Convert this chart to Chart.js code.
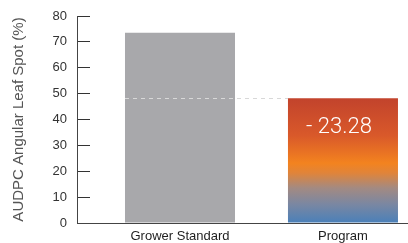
<!DOCTYPE html>
<html>
<head>
<meta charset="utf-8">
<script src="https://cdn.jsdelivr.net/npm/chart.js@4/dist/chart.umd.min.js"></script>
<style>
  html, body { margin: 0; padding: 0; background: #fff; overflow: hidden; }
  #wrap { width: 408px; height: 243px; position: relative; }
</style>
</head>
<body>
<div id="wrap"><canvas id="chart" width="408" height="243"></canvas></div>
<script>
// chart data
const categories = ['Grower Standard', 'Program'];
const positions = [1, 2];
const audpc = [73.5, 48.2];
const barLabels = ['', '- 23.28'];
const yTicks = [0, 10, 20, 30, 40, 50, 60, 70, 80];
const yTitle = 'AUDPC Angular Leaf Spot (%)';

const FONT = "'Liberation Sans', Arial, sans-serif";

function programGradient(ctx) {
    const chart = ctx.chart;
    const area = chart.chartArea;
    if (!area) return '#e07030';
    const y = chart.scales.y;
    const top = y.getPixelForValue(audpc[1]);
    const bottom = y.getPixelForValue(0);
    const g = chart.ctx.createLinearGradient(0, top, 0, bottom);
    g.addColorStop(0, '#c2432c');
    g.addColorStop(0.3, '#d9592a');
    g.addColorStop(0.52, '#f3831f');
    g.addColorStop(0.6, '#e0843a');
    g.addColorStop(0.72, '#a38a82');
    g.addColorStop(0.85, '#7a87a2');
    g.addColorStop(1, '#4a80b9');
    return g;
}

// dashed reference line from the grower bar to the program bar top
const refLine = {
    id: 'refLine',
    afterDatasetsDraw(chart) {
        const meta = chart.getDatasetMeta(0);
        const a = meta.data[0], b = meta.data[1];
        const c = chart.ctx;
        const yy = Math.round(b.y) + 0.5;
        c.save();
        c.strokeStyle = '#d8d8d8';
        c.lineWidth = 1;
        c.setLineDash([4, 4]);
        c.beginPath();
        c.moveTo(a.x - a.width / 2, yy);
        c.lineTo(b.x - b.width / 2, yy);
        c.stroke();
        c.setLineDash([]);
        c.fillStyle = '#ffffff';
        c.font = '300 22px Roboto, ' + FONT;
        c.textAlign = 'center';
        c.textBaseline = 'middle';
        meta.data.forEach((bar, i) => {
            if (barLabels[i]) c.fillText(barLabels[i], bar.x - 4, bar.y + 29);
        });
        c.restore();
    }
};

new Chart(document.getElementById('chart'), {
    type: 'bar',
    data: {
        datasets: [{
            data: positions.map((x, i) => ({ x: x, y: audpc[i] })),
            backgroundColor: ctx => ctx.dataIndex === 0 ? '#a8a8ab' : programGradient(ctx),
            borderWidth: 0,
            barPercentage: 0.675,
            categoryPercentage: 1
        }]
    },
    options: {
        responsive: false,
        animation: false,
        layout: { padding: { top: 16, right: 0, bottom: 0, left: 0 } },
        plugins: { legend: { display: false }, tooltip: { enabled: false } },
        scales: {
            x: {
                type: 'linear',
                offset: false,
                min: 0.368,
                max: 2.399,
                afterBuildTicks: s => { s.ticks = positions.map(v => ({ value: v })); },
                afterFit: s => { s.height = 20; s.paddingLeft = 0; s.paddingRight = 0; },
                grid: { display: false, drawTicks: false, offset: false },
                border: { display: true, color: '#444', width: 1 },
                ticks: {
                    callback: (v) => categories[positions.indexOf(v)] || '',
                    color: '#1e1e1e',
                    font: { family: FONT, size: 13 },
                    padding: 6,
                    maxRotation: 0,
                    autoSkip: false
                }
            },
            y: {
                min: 0,
                max: 80,
                afterBuildTicks: s => { s.ticks = yTicks.map(v => ({ value: v })); },
                afterFit: s => { s.width = 77; s.paddingTop = 0; s.paddingBottom = 0; },
                grid: { drawOnChartArea: false, drawTicks: true, tickLength: -13, color: '#333' },
                border: { display: true, color: '#444', width: 1 },
                ticks: {
                    color: '#333',
                    font: { family: FONT, size: 13 },
                    padding: 23
                },
                title: {
                    display: true,
                    text: yTitle,
                    color: '#555',
                    font: { family: FONT, size: 15 },
                    padding: { top: 10, bottom: 0 }
                }
            }
        }
    },
    plugins: [refLine]
});
</script>
</body>
</html>
